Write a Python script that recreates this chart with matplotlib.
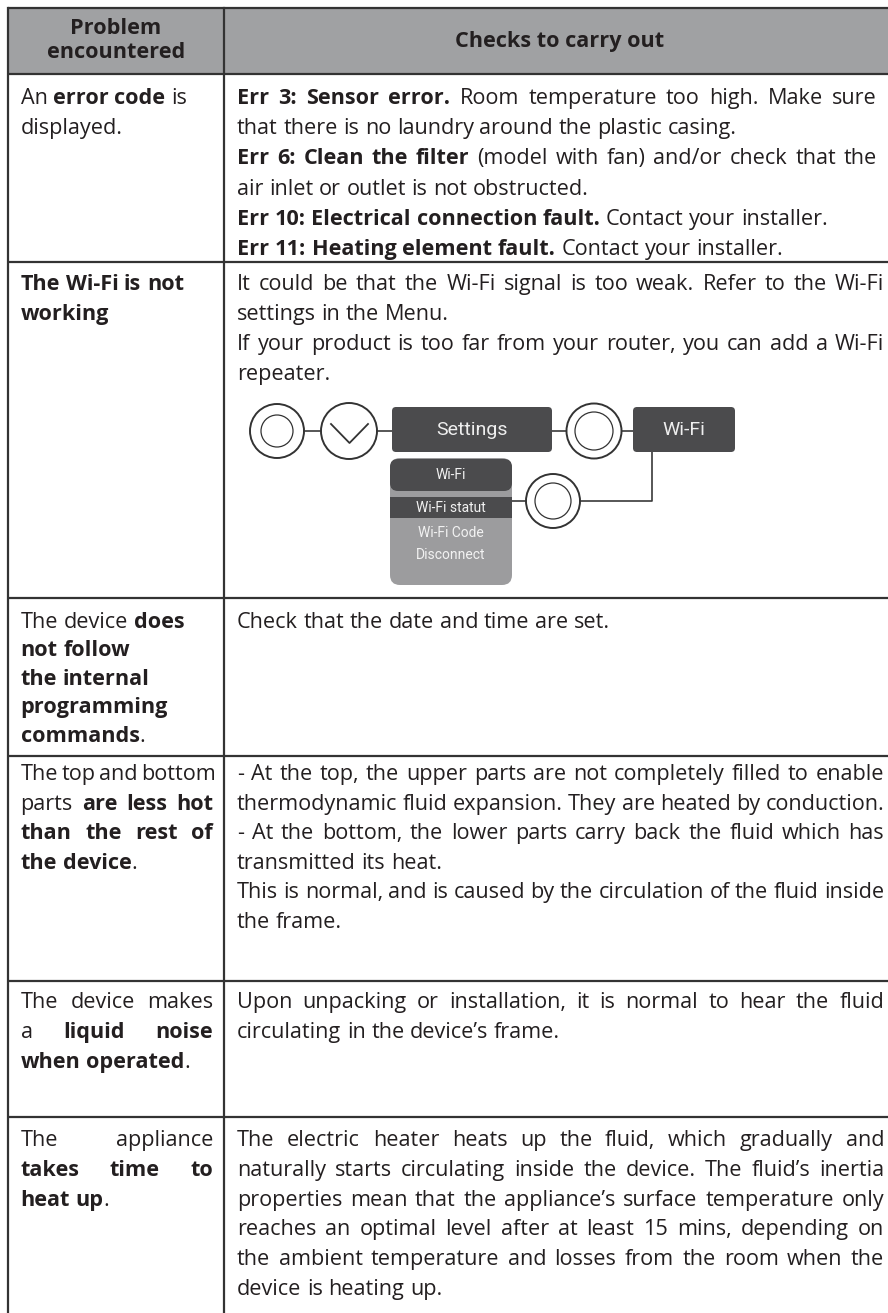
import matplotlib
matplotlib.use("Agg")
import matplotlib.pyplot as plt
from matplotlib.patches import Rectangle, Circle, FancyBboxPatch

# texte du tableau (les *...* sont en gras)
header_left = ["Problem", "encountered"]
header_right = "Checks to carry out"

problems = [
    ["An *error code* is", "displayed."],
    ["*The Wi-Fi is not*", "*working*"],
    ["The device *does*", "*not follow*", "*the internal*", "*programming*", "*commands*."],
    ["The top and bottom", "parts *are less hot*", "*than the rest of*", "*the device*."],
    ["The device makes", "a *liquid noise*", "*when operated*."],
    ["The appliance", "*takes time to*", "*heat up*."],
]
problems_just = [
    [False, False],
    [False, False],
    [False, False, False, False, False],
    [True, True, True, False],
    [True, True, False],
    [True, True, False],
]

checks = [
    ["*Err 3: Sensor error.* Room temperature too high. Make sure",
     "that there is no laundry around the plastic casing.",
     "*Err 6: Clean the filter* (model with fan) and/or check that the",
     "air inlet or outlet is not obstructed.",
     "*Err 10: Electrical connection fault.* Contact your installer.",
     "*Err 11: Heating element fault.* Contact your installer."],
    ["It could be that the Wi-Fi signal is too weak. Refer to the Wi-Fi",
     "settings in the Menu.",
     "If your product is too far from your router, you can add a Wi-Fi",
     "repeater."],
    ["Check that the date and time are set."],
    ["- At the top, the upper parts are not completely filled to enable",
     "thermodynamic fluid expansion. They are heated by conduction.",
     "- At the bottom, the lower parts carry back the fluid which has",
     "transmitted its heat.",
     "This is normal, and is caused by the circulation of the fluid inside",
     "the frame."],
    ["Upon unpacking or installation, it is normal to hear the fluid",
     "circulating in the device\u2019s frame."],
    ["The electric heater heats up the fluid, which gradually and",
     "naturally starts circulating inside the device. The fluid\u2019s inertia",
     "properties mean that the appliance\u2019s surface temperature only",
     "reaches an optimal level after at least 15 mins, depending on",
     "the ambient temperature and losses from the room when the",
     "device is heating up."],
]
checks_just = [
    [True, False, True, False, False, False],
    [True, False, True, False],
    [False],
    [True, True, True, False, True, False],
    [True, False],
    [True, True, True, True, True, False],
]

menu_items = ["Wi-Fi", "Wi-Fi statut", "Wi-Fi Code", "Disconnect"]

# mise en page (pixels)
W, H = 888, 1313
row_edges = [8, 74, 262, 598, 756, 981, 1117, 1313]
first_base = [104, 290, 628, 780, 1008, 1146]
pitch_left = [30.2, 30.0, 28.4, 29.6, 30.0, 29.8]
pitch_right = [30.2, 30.0, 30.0, 29.6, 30.0, 29.8]
x_left, x_div = 8, 224
col1 = (20.5, 213)
col2 = (237, 884)
col2_row1_end = 877

FS = 15.6
TXT = "#231f20"
LINE = "#333333"
FAM = ["Open Sans", "DejaVu Sans"]

fig = plt.figure(figsize=(W / 100, H / 100), dpi=100)
ax = fig.add_axes([0, 0, 1, 1])
ax.set_xlim(0, W)
ax.set_ylim(H, 0)
ax.axis("off")
renderer = fig.canvas.get_renderer()


def text_width(t):
    return t.get_window_extent(renderer).width


def parse(markup):
    bold = False
    words = []
    for tok in markup.split(" "):
        runs = []
        for i, p in enumerate(tok.split("*")):
            if i > 0:
                bold = not bold
            if p:
                runs.append((p, bold))
        words.append(runs)
    return words


_probe = ax.text(0, 0, "n n", fontsize=FS, family=FAM)
_probe2 = ax.text(0, 0, "nn", fontsize=FS, family=FAM)
SPACE = text_width(_probe) - text_width(_probe2)
_probe.remove()
_probe2.remove()


def draw_line(x0, x1, y, markup, justify):
    words = parse(markup)
    placed = []
    total = 0
    for w in words:
        runs = []
        for txt, b in w:
            t = ax.text(0, y, txt, fontsize=FS, family=FAM,
                        fontweight="bold" if b else "normal",
                        va="baseline", ha="left", color=TXT)
            wd = text_width(t)
            runs.append((t, wd))
            total += wd
        placed.append(runs)
    gap = SPACE
    if justify and len(placed) > 1:
        gap = max((x1 - x0 - total) / (len(placed) - 1), 0.6 * SPACE)
    x = x0
    for runs in placed:
        for t, wd in runs:
            t.set_x(x)
            x += wd
        x += gap


# en-tete
ax.add_patch(Rectangle((x_left, row_edges[0]), W - x_left + 10, row_edges[1] - row_edges[0],
                       facecolor="#a0a1a3", edgecolor="none", zorder=0))
ax.text((x_left + x_div) / 2, 28, header_left[0], fontsize=FS, family=FAM, fontweight="bold",
        ha="center", va="center", color=TXT)
ax.text((x_left + x_div) / 2, 53, header_left[1], fontsize=FS, family=FAM, fontweight="bold",
        ha="center", va="center", color=TXT)
ax.text(560, 41, header_right, fontsize=FS, family=FAM, fontweight="bold",
        ha="center", va="center", color=TXT)

# bordures
for y in row_edges[:-1]:
    ax.plot([x_left, W + 5], [y, y], color=LINE, lw=1.6, solid_capstyle="butt")
ax.plot([x_left, x_left], [row_edges[0], H + 5], color=LINE, lw=1.6)
ax.plot([x_div, x_div], [row_edges[0], H + 5], color=LINE, lw=1.6)

# contenu
for r in range(len(problems)):
    for i, (line, j) in enumerate(zip(problems[r], problems_just[r])):
        draw_line(col1[0], col1[1], first_base[r] + i * pitch_left[r], line, j)
    end = col2_row1_end if r == 0 else col2[1]
    for i, (line, j) in enumerate(zip(checks[r], checks_just[r])):
        draw_line(col2[0], end, first_base[r] + i * pitch_right[r], line, j)

# schema Wi-Fi
DARK = "#4b4b4d"
PANEL = "#9c9c9e"
UIF = ["Roboto", "DejaVu Sans"]


def button(cx, cy, R, r):
    ax.add_patch(Circle((cx, cy), R, facecolor="white", edgecolor="#333333", lw=1.4))
    if r:
        ax.add_patch(Circle((cx, cy), r, facecolor="white", edgecolor="#333333", lw=0.9))


def seg(xs, ys):
    ax.plot(xs, ys, color="#3a3a3a", lw=1.2, zorder=1)


seg([303, 322], [431, 431])
seg([376, 392], [431, 431])
seg([552, 567], [431, 431])
seg([621, 634], [431, 431])
seg([652, 652, 580], [452, 501, 501])
seg([526, 511], [501, 501])

button(277, 431, 27, 16)
button(349, 431, 28, 0)
ax.plot([331, 349.5, 368], [424, 443, 424], color="#333333", lw=1.3)
button(594, 431, 27.5, 19)
button(553, 501, 27, 18)

ax.add_patch(FancyBboxPatch((392, 407), 160, 45, boxstyle="round,pad=0,rounding_size=4",
                            facecolor=DARK, edgecolor="none"))
ax.text(472, 430, "Settings", fontsize=14, family=UIF, color="#eeeeee", ha="center", va="center")
ax.add_patch(FancyBboxPatch((633, 407), 102, 45, boxstyle="round,pad=0,rounding_size=4",
                            facecolor=DARK, edgecolor="none"))
ax.text(684, 430, "Wi-Fi", fontsize=14, family=UIF, color="#eeeeee", ha="center", va="center")

ax.add_patch(FancyBboxPatch((390, 458), 122, 127, boxstyle="round,pad=0,rounding_size=10",
                            facecolor=PANEL, edgecolor="none"))
ax.add_patch(FancyBboxPatch((390, 459), 122, 32, boxstyle="round,pad=0,rounding_size=8",
                            facecolor=DARK, edgecolor="none"))
ax.add_patch(Rectangle((390, 497), 122, 21, facecolor=DARK, edgecolor="none"))
for label, yy in zip(menu_items, [475, 507.5, 533, 555]):
    ax.text(451, yy, label, fontsize=10, family=UIF, color="#f2f2f2", ha="center", va="center")

fig.savefig("out.png", dpi=100, facecolor="white")
